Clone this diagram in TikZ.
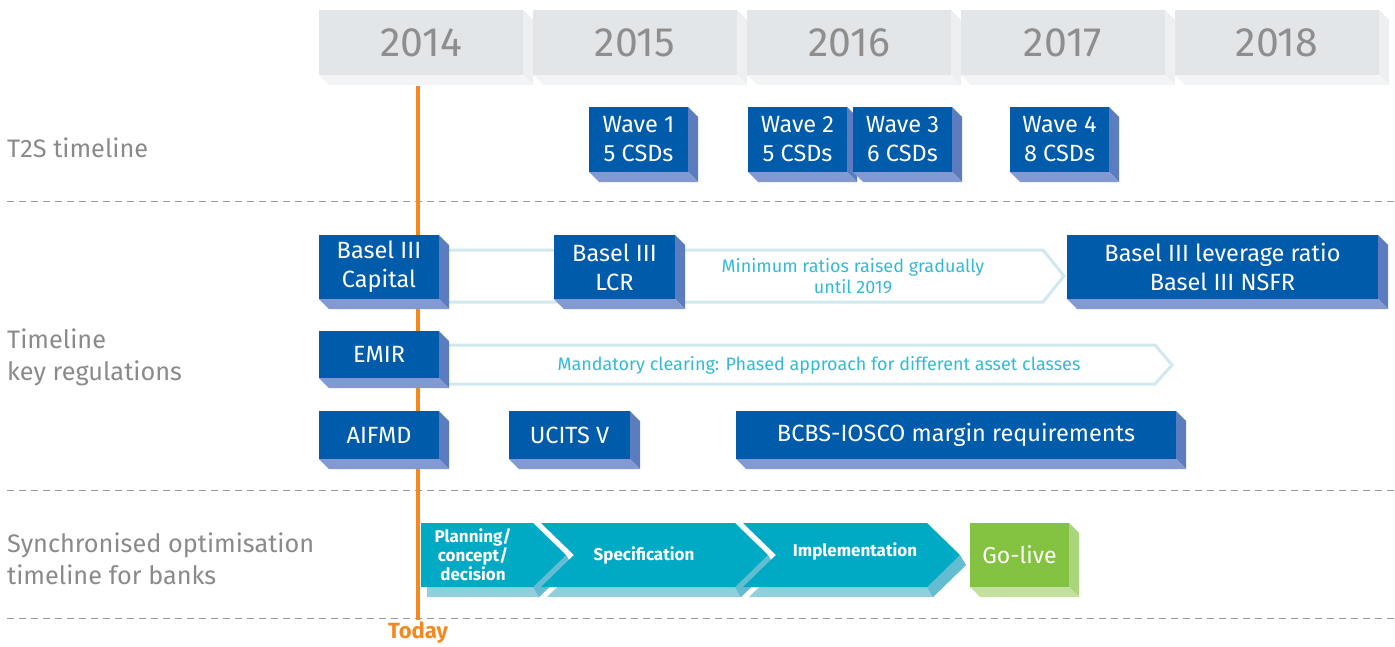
\documentclass[tikz,border=0pt]{standalone}
\usepackage{fontspec}
\setmainfont{Fira Sans}
\usetikzlibrary{positioning,calc}

\definecolor{hdrfront}{HTML}{E3E6E9}
\definecolor{hdrside}{HTML}{EDEFF1}
\definecolor{hdrbot}{HTML}{F3F4F6}
\definecolor{yeargray}{HTML}{8E8E8E}
\definecolor{labelgray}{HTML}{8A8A8A}
\definecolor{ecbblue}{HTML}{005BAB}
\definecolor{blueside}{HTML}{5B7DC0}
\definecolor{bluebot}{HTML}{8399D2}
\definecolor{paleline}{HTML}{D0E8EE}
\definecolor{cyantext}{HTML}{35B9D3}
\definecolor{chevfront}{HTML}{00A9C4}
\definecolor{chevside}{HTML}{63BCD0}
\definecolor{chevbot}{HTML}{91CFDE}
\definecolor{golivegreen}{HTML}{84C341}
\definecolor{goside}{HTML}{A9D57B}
\definecolor{gobot}{HTML}{C3E09E}
\definecolor{todayorange}{HTML}{F28A21}
\definecolor{dashgray}{HTML}{9A9A9A}

% right and bottom faces of a slab node
\newcommand{\slabsides}[3]{%
  \fill[#2] (#1.north east) -- ++(10,10) -- ([shift={(10,10)}]#1.south east) -- (#1.south east) -- cycle;
  \fill[#3] (#1.south west) -- ([shift={(10,10)}]#1.south west) -- ([shift={(10,10)}]#1.south east) -- (#1.south east) -- cycle;
}

\begin{document}
\begin{tikzpicture}[x=1pt,y=-1pt,
    yearbox/.style={anchor=north west, minimum width=204, minimum height=65, inner sep=0, outer sep=0,
      fill=hdrfront, text=yeargray, font=\fontsize{41}{44}\selectfont},
    bluebox/.style 2 args={anchor=north west, minimum width=#1, minimum height=#2, inner sep=0, outer sep=0,
      fill=ecbblue, text=white, align=center, font=\fontsize{23.5}{29}\selectfont},
    sidelabel/.style={anchor=west, inner sep=0, align=left, text=labelgray, font=\fontsize{25.3}{32}\selectfont},
    note/.style={text=cyantext, align=center, inner sep=0, font=\fontsize{18}{21}\selectfont},
    chevtext/.style={text=white, align=center, inner sep=0, font=\bfseries\fontsize{17}{19}\selectfont},
    sepline/.style={dashgray, dashed, dash pattern=on 7pt off 5pt, line width=1}]
\useasboundingbox (0,0) rectangle (1395,646);

% year headers
\foreach \yr [count=\i from 0] in {2014,2015,2016,2017,2018} {
  \node[yearbox] (y\yr) at ({319+214*\i},10) {\yr};
  \slabsides{y\yr}{hdrside}{hdrbot}
}

% row separators
\draw[sepline] (7,201) -- (1395,201);
\draw[sepline] (7,490) -- (1395,490);
\draw[sepline] (7,618) -- (1395,618);

% row labels
\node[sidelabel] (t2s) at (7,148) {T2S timeline};
\node[sidelabel] (keyreg) at (7,357) {Timeline\\key regulations};
\node[sidelabel] (banks) at (7,559) {Synchronised optimisation\\timeline for banks};

% today marker
\node[anchor=north, inner sep=2, text=todayorange, font=\bfseries\fontsize{22}{24}\selectfont] (today) at (418,620) {Today};
\coordinate (nowtop) at (418,86);
\draw[todayorange, line width=4] (nowtop) -- (today.north);

% T2S waves
\node[bluebox={99}{65}] (wave1) at (589,107) {Wave 1\\5 CSDs};
\slabsides{wave1}{blueside}{bluebot}
\node[bluebox={99}{65}] (wave2) at (748,107) {Wave 2\\5 CSDs};
\slabsides{wave2}{blueside}{bluebot}
\node[bluebox={99}{65}] (wave3) at (853,107) {Wave 3\\6 CSDs};
\slabsides{wave3}{blueside}{bluebot}
\node[bluebox={99}{65}] (wave4) at (1010,107) {Wave 4\\8 CSDs};
\slabsides{wave4}{blueside}{bluebot}

% phase-in outlines
\draw[paleline, line width=3] (440,250) -- (1043,250) -- (1064,276) -- (1043,302) -- (440,302);
\draw[paleline, line width=3] (440,345) -- (1155,345) -- (1172,365) -- (1155,384) -- (440,384);
\node[note] (minratio) at (853,276) {Minimum ratios raised gradually\\until 2019};
\node[note] (clearing) at (819,365) {Mandatory clearing: Phased approach for different asset classes};

% regulations
\node[bluebox={120}{64}] (capital) at (319,235) {Basel III\\Capital};
\slabsides{capital}{blueside}{bluebot}
\node[bluebox={121}{64}] (lcr) at (554,235) {Basel III\\LCR};
\slabsides{lcr}{blueside}{bluebot}
\node[bluebox={311}{64}] (nsfr) at (1067,235) {Basel III leverage ratio\\Basel III NSFR};
\slabsides{nsfr}{blueside}{bluebot}
\node[bluebox={120}{47}] (emir) at (319,331) {EMIR};
\slabsides{emir}{blueside}{bluebot}
\node[bluebox={120}{48}] (aifmd) at (319,411) {AIFMD};
\slabsides{aifmd}{blueside}{bluebot}
\node[bluebox={121}{48}] (ucits) at (509,411) {UCITS V};
\slabsides{ucits}{blueside}{bluebot}
\node[bluebox={440}{48}] (bcbs) at (736,411) {BCBS-IOSCO margin requirements};
\slabsides{bcbs}{blueside}{bluebot}

% bank project chevrons
\foreach \xl/\n/\xr in {421/0/533, 541/33/735, 743/33/927} {
  \fill[chevbot] (\xl+\n+6,533) -- (\xr+6,533) -- (\xr+39,565) -- (\xr+6,597) -- (\xl+6,597) -- (\xl+\n+6,565) -- cycle;
  \fill[chevside] (\xr+33,555) -- (\xr+39,565) -- (\xr+6,597) -- (\xr,587) -- cycle;
  \fill[chevfront] (\xl,523) -- (\xr,523) -- (\xr+33,555) -- (\xr,587) -- (\xl,587) -- (\xl+\n,555) -- cycle;
}
\node[chevtext] (plan) at (473,555) {Planning/\\concept/\\decision};
\node[chevtext] (spec) at (644,555) {Specification};
\node[chevtext] (impl) at (855,551) {Implementation};

\node[anchor=north west, minimum width=99, minimum height=64, inner sep=0, outer sep=0,
  fill=golivegreen, text=white, font=\fontsize{23}{26}\selectfont] (golive) at (970,523) {Go-live};
\slabsides{golive}{goside}{gobot}
\end{tikzpicture}
\end{document}
